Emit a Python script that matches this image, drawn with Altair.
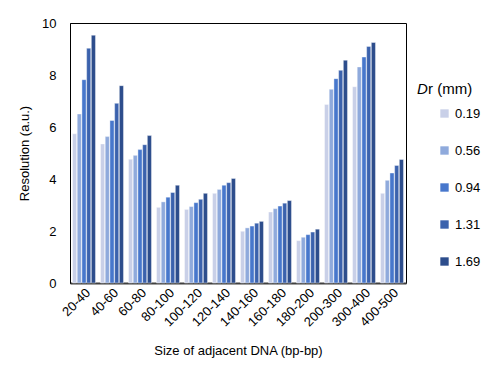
import altair as alt
import pandas as pd

categories = ["20-40", "40-60", "60-80", "80-100", "100-120", "120-140",
              "140-160", "160-180", "180-200", "200-300", "300-400", "400-500"]
series = ["0.19", "0.56", "0.94", "1.31", "1.69"]
values = {
    "0.19": [5.74, 5.35, 4.76, 2.91, 2.83, 3.45, 1.99, 2.73, 1.63, 6.87, 7.55, 3.45],
    "0.56": [6.50, 5.63, 4.91, 3.12, 2.94, 3.60, 2.12, 2.86, 1.76, 7.45, 8.31, 3.95],
    "0.94": [7.82, 6.25, 5.13, 3.30, 3.09, 3.76, 2.19, 2.96, 1.86, 7.86, 8.69, 4.23],
    "1.31": [9.03, 6.91, 5.32, 3.48, 3.22, 3.86, 2.30, 3.07, 1.96, 8.18, 9.10, 4.52],
    "1.69": [9.53, 7.59, 5.67, 3.76, 3.45, 4.02, 2.37, 3.17, 2.07, 8.57, 9.25, 4.75],
}
colors = ["#C9D0E8", "#8FAADC", "#4777CC", "#3B62AD", "#2D4D8C"]

rows = []
for s in series:
    for c, v in zip(categories, values[s]):
        rows.append({"size": c, "dr": s, "res": v})
df = pd.DataFrame(rows)

W, H = 336, 260
font = "Liberation Sans"

bars = alt.Chart(df).mark_bar(stroke="white", strokeWidth=0.4).encode(
    x=alt.X("size:N", sort=categories,
            scale=alt.Scale(paddingInner=0.18, paddingOuter=0.09),
            axis=alt.Axis(title="Size of adjacent DNA (bp-bp)", labelAngle=-45,
                          labelFontSize=13, titleFontSize=13, ticks=False,
                          domainColor="#404040", domainWidth=2,
                          labelPadding=3, titlePadding=16,
                          labelColor="#000", titleColor="#000",
                          labelFont=font, titleFont=font, titleFontWeight="normal")),
    xOffset=alt.XOffset("dr:N", sort=series, scale=alt.Scale(paddingInner=0.12)),
    y=alt.Y("res:Q", scale=alt.Scale(domain=[0, 10]),
            axis=alt.Axis(title="Resolution (a.u.)", values=[0, 2, 4, 6, 8, 10],
                          grid=False, ticks=False, domainColor="#000",
                          labelFontSize=13, titleFontSize=13, labelPadding=14,
                          titlePadding=10, labelColor="#000", titleColor="#000",
                          labelFont=font, titleFont=font, titleFontWeight="normal")),
    color=alt.Color("dr:N", sort=series,
                    scale=alt.Scale(domain=series, range=colors),
                    legend=alt.Legend(title=None, orient="none", legendX=368, legendY=84,
                                      symbolType="square", symbolSize=70,
                                      symbolStrokeWidth=0, labelFontSize=13,
                                      labelFont=font, labelColor="#000",
                                      rowPadding=23, padding=0, labelOffset=4)),
)

title_d = alt.Chart(pd.DataFrame({"t": ["D"]})).mark_text(
    align="left", baseline="middle", fontSize=15, fontStyle="italic", font=font, color="#000"
).encode(x=alt.value(347), y=alt.value(66), text="t:N")
title_r = alt.Chart(pd.DataFrame({"t": ["r (mm)"]})).mark_text(
    align="left", baseline="middle", fontSize=15, font=font, color="#000"
).encode(x=alt.value(358), y=alt.value(66), text="t:N")

chart = alt.layer(bars, title_d, title_r).properties(
    width=W, height=H,
    autosize=alt.AutoSizeParams(type="none"),
    padding={"left": 62, "top": 15, "right": 88, "bottom": 85},
).configure_view(stroke="#000", strokeWidth=1)

chart.save("out.html", embed_options={"renderer": "svg", "actions": False})
